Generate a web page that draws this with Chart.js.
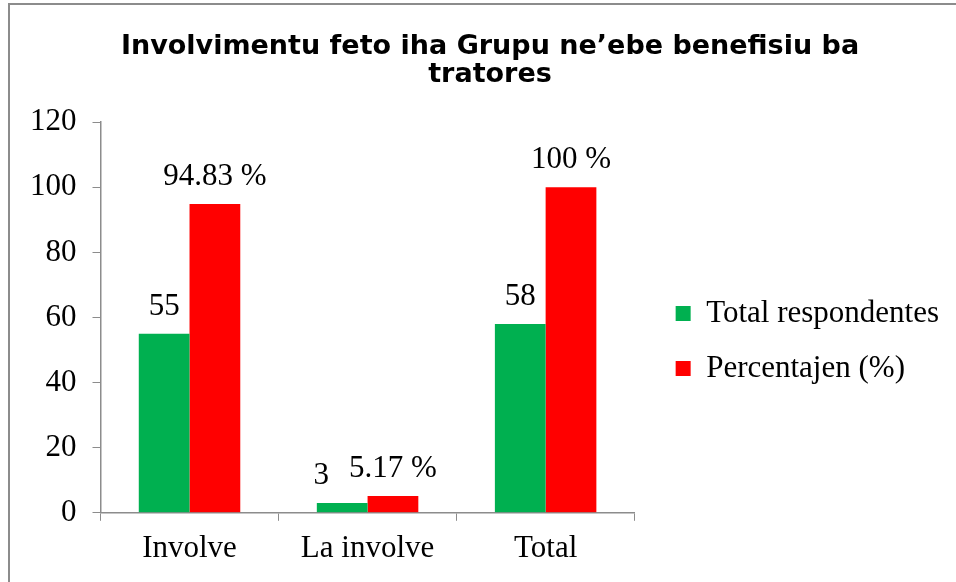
<!DOCTYPE html>
<html>
<head>
<meta charset="utf-8">
<script src="https://cdn.jsdelivr.net/npm/chart.js@4/dist/chart.umd.min.js"></script>
<style>
  html, body { margin: 0; padding: 0; background: #fff; overflow: hidden; }
  #wrap { position: relative; width: 956px; height: 582px; }
  #frame { position: absolute; left: 8px; top: 3px; width: 2000px; height: 2000px;
           border-left: 2px solid #8c8c8c; border-top: 2px solid #8c8c8c; box-sizing: border-box; }
  canvas { position: absolute; left: 0; top: 0; }
</style>
</head>
<body>
<div id="wrap">
  <div id="frame"></div>
  <canvas id="chart" width="956" height="582"></canvas>
</div>
<script>
const categories = ['Involve', 'La involve', 'Total'];
const respondentes = [55, 3, 58];
const percentajen = [94.83, 5.17, 100];
const seriesNames = ['Total respondentes', 'Percentajen (%)'];
const yTicks = [0, 20, 40, 60, 80, 100, 120];

const serif = "'Liberation Serif', 'Times New Roman', serif";
const fontSize = 31;

// the "3" label sits a little to the left in the original so it clears "5.17 %"
function labelNudge(dsIndex, idx) {
    return (dsIndex === 0 && idx === 1) ? -21 : 0;
}

const barLabels = {
    id: 'barLabels',
    afterDatasetsDraw(chart) {
        const ctx = chart.ctx;
        ctx.save();
        ctx.font = fontSize + 'px ' + serif;
        ctx.fillStyle = '#000';
        ctx.textAlign = 'center';
        ctx.textBaseline = 'alphabetic';
        chart.data.datasets.forEach(function (ds, i) {
            const meta = chart.getDatasetMeta(i);
            meta.data.forEach(function (bar, j) {
                const v = ds.data[j];
                const txt = i === 1 ? v + ' %' : String(v);
                ctx.fillText(txt, bar.x + labelNudge(i, j), bar.y - 19);
            });
        });
        ctx.restore();
    }
};

// move the legend and title to where the original has them
const boxShift = {
    id: 'boxShift',
    afterLayout(chart) {
        const lg = chart.legend;
        lg.top += 46; lg.bottom += 46;
        lg.left += 17; lg.right += 17;
        const tb = chart.titleBlock;
        tb.left += 17; tb.right += 17;
    }
};

const ctx = document.getElementById('chart').getContext('2d');
new Chart(ctx, {
    type: 'bar',
    data: {
        labels: categories,
        datasets: [
            { label: seriesNames[0], data: respondentes, backgroundColor: '#00b050' },
            { label: seriesNames[1], data: percentajen, backgroundColor: '#ff0000' }
        ]
    },
    options: {
        responsive: false,
        animation: false,
        devicePixelRatio: 1,
        layout: { padding: { left: 14, right: 24, top: 14, bottom: 6 } },
        datasets: { bar: { barPercentage: 1, categoryPercentage: 0.57 } },
        plugins: {
            title: {
                display: true,
                text: ['Involvimentu feto iha Grupu ne\u2019ebe benefisiu ba', 'tratores'],
                color: '#000',
                font: { family: "'DejaVu Sans', sans-serif", size: 27, weight: 'bold', lineHeight: 1.04 },
                padding: { top: 19, bottom: 33 }
            },
            legend: {
                position: 'right',
                maxWidth: 320,
                labels: {
                    color: '#000',
                    font: { family: serif, size: fontSize },
                    boxWidth: 15,
                    boxHeight: 15,
                    padding: 24
                }
            },
            tooltip: { enabled: false }
        },
        scales: {
            x: {
                grid: { display: true, drawOnChartArea: false, drawTicks: true, tickLength: 8, color: '#8c8c8c', offset: true },
                border: { color: '#8c8c8c', width: 1.5 },
                ticks: { color: '#000', font: { family: serif, size: fontSize }, padding: 9 }
            },
            y: {
                min: 0,
                max: 120,
                afterBuildTicks: function (axis) { axis.ticks = yTicks.map(function (v) { return { value: v }; }); },
                grid: { display: true, drawOnChartArea: false, drawTicks: true, tickLength: 8, color: '#8c8c8c' },
                border: { color: '#8c8c8c', width: 1.5 },
                ticks: { color: '#000', font: { family: serif, size: fontSize }, padding: 16 }
            }
        }
    },
    plugins: [barLabels, boxShift]
});
</script>
</body>
</html>
